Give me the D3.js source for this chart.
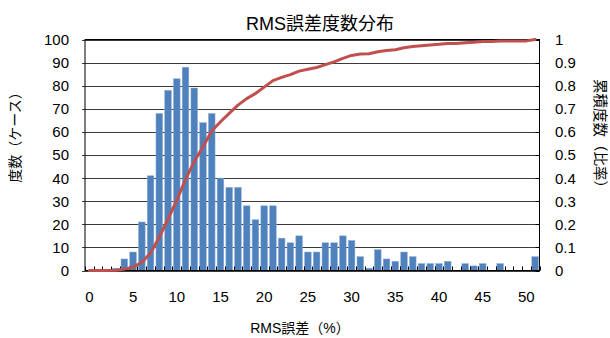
<!DOCTYPE html>
<html><head><meta charset="utf-8">
<script src="https://cdn.jsdelivr.net/npm/d3@7"></script>
<style>
body{margin:0;background:#fff}
text{font-family:"Liberation Sans","Noto Sans CJK JP",sans-serif;fill:#000}
</style>
</head><body>
<svg id="c" width="610" height="338"></svg>
<script>
const categories = [0,1,2,3,4,5,6,7,8,9,10,11,12,13,14,15,16,17,18,19,20,21,22,23,24,25,26,27,28,29,30,31,32,33,34,35,36,37,38,39,40,41,42,43,44,45,46,47,48,49,50,51];
const counts = [0,0,0,1,5,8,21,41,68,78,83,88,79,64,68,40,36,36,28,22,28,28,14,12,15,8,8,12,12,15,13,6,1,9,5,4,8,6,3,3,3,4,0,3,2,3,0,3,0,0,0,6];
const cumulative = [0,0,0,0.001,0.006,0.014,0.035,0.076,0.144,0.222,0.305,0.393,0.472,0.536,0.604,0.644,0.68,0.716,0.744,0.766,0.794,0.822,0.836,0.848,0.863,0.871,0.879,0.891,0.903,0.918,0.931,0.937,0.938,0.947,0.952,0.956,0.964,0.97,0.973,0.976,0.979,0.983,0.983,0.986,0.988,0.991,0.991,0.994,0.994,0.994,0.994,1.0];
const leftTicks = [0,10,20,30,40,50,60,70,80,90,100];
const rightTicks = [0,0.1,0.2,0.3,0.4,0.5,0.6,0.7,0.8,0.9,1];
const xTickLabels = [0,5,10,15,20,25,30,35,40,45,50];
const title = "RMS誤差度数分布";
const xTitle = "RMS誤差（%）";
const yTitle = "度数（ケース）";
const y2Title = "累積度数（比率）";

const svg = d3.select("#c");
const L = 85, R = 539.5, T = 39.5, B = 270.5;
const pi = 0.24;
const x = d3.scaleBand().domain(categories).range([L, R]).paddingInner(pi).paddingOuter(pi/2);
const y = d3.scaleLinear().domain([0,100]).range([B, T]);
const y2 = d3.scaleLinear().domain([0,1]).range([B, T]);
const step = x.step();

// gridlines
svg.append("g").selectAll("line").data(leftTicks).join("line")
  .attr("x1", L - 3).attr("x2", R)
  .attr("y1", d => Math.round(y(d)) + 0.5).attr("y2", d => Math.round(y(d)) + 0.5)
  .attr("stroke", "#3c3c3c").attr("stroke-width", 1);

// bars
svg.append("g").selectAll("rect").data(categories).join("rect")
  .attr("x", d => x(d)).attr("width", x.bandwidth())
  .attr("y", (d,i) => y(counts[i])).attr("height", (d,i) => B - y(counts[i]))
  .attr("fill", "#4f81bd").attr("stroke", "#8fb0d8").attr("stroke-width", 0.5);

// plot border
svg.append("rect").attr("x", L).attr("y", T).attr("width", R - L).attr("height", B - T)
  .attr("fill", "none").attr("stroke", "#000").attr("stroke-width", 1);

// x ticks at category boundaries (inside)
svg.append("g").selectAll("line").data(categories.concat([52])).join("line")
  .attr("x1", (d,i) => Math.round(L + i*step) + 0.5).attr("x2", (d,i) => Math.round(L + i*step) + 0.5)
  .attr("y1", B).attr("y2", B - 4).attr("stroke", "#000");

// right ticks inside
svg.append("g").selectAll("line").data(rightTicks).join("line")
  .attr("x1", R - 4).attr("x2", R)
  .attr("y1", d => Math.round(y2(d)) + 0.5).attr("y2", d => Math.round(y2(d)) + 0.5)
  .attr("stroke", "#000");

// cumulative line
const line = d3.line().x((d,i) => x(categories[i]) + x.bandwidth()/2).y(d => y2(d));
svg.append("path").datum(cumulative).attr("d", line)
  .attr("fill", "none").attr("stroke", "#c0504d").attr("stroke-width", 3)
  .attr("stroke-linejoin", "round").attr("stroke-linecap", "round");

// left tick labels
svg.append("g").selectAll("text").data(leftTicks).join("text")
  .attr("x", 69).attr("y", d => y(d)).attr("dy", "0.36em")
  .attr("text-anchor", "end").attr("font-size", 15).text(d => d);

// right tick labels
svg.append("g").selectAll("text").data(rightTicks).join("text")
  .attr("x", 555).attr("y", d => y2(d)).attr("dy", "0.36em")
  .attr("text-anchor", "start").attr("font-size", 15).text(d => d);

// x tick labels
svg.append("g").selectAll("text").data(xTickLabels).join("text")
  .attr("x", d => x(d) + x.bandwidth()/2).attr("y", 302)
  .attr("text-anchor", "middle").attr("font-size", 15).text(d => d);

// titles
svg.append("text").attr("x", 320).attr("y", 30).attr("text-anchor", "middle")
  .attr("font-size", 18).text(title);
svg.append("text").attr("x", 300).attr("y", 333).attr("text-anchor", "middle")
  .attr("font-size", 14).text(xTitle);
svg.append("text").attr("transform", "translate(20,134) rotate(-90)").attr("text-anchor", "middle")
  .attr("font-size", 14).text(yTitle);
svg.append("text").attr("transform", "translate(595,137) rotate(90)").attr("text-anchor", "middle")
  .attr("font-size", 14.5).text(y2Title);
</script>
</body></html>
